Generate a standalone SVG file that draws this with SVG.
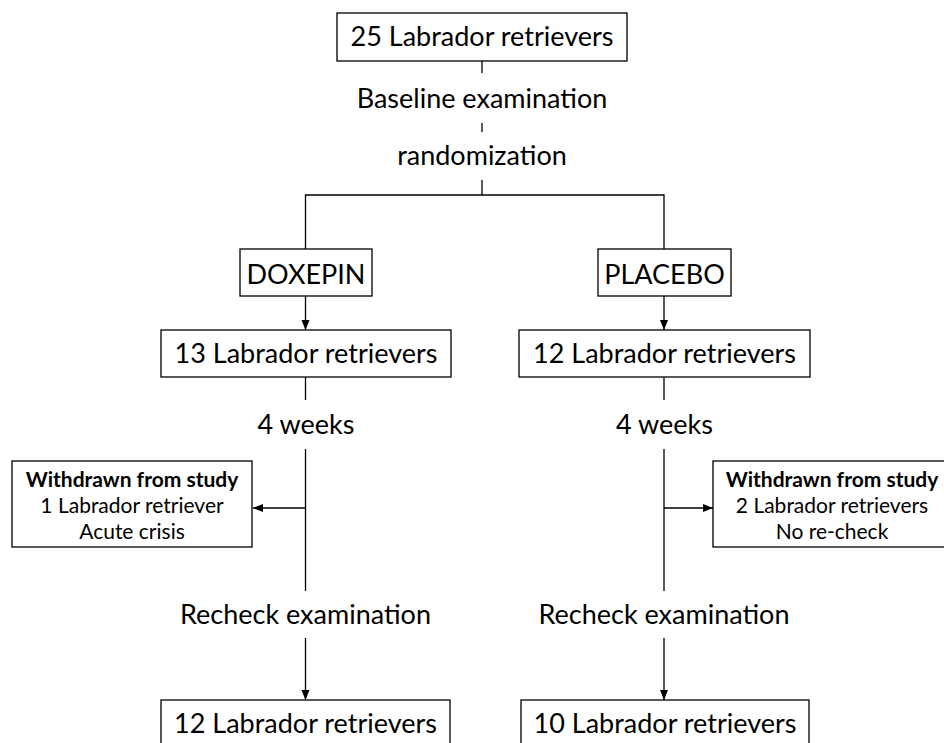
<svg xmlns="http://www.w3.org/2000/svg" width="944" height="743" viewBox="0 0 944 743">
<style>
  .box { fill: #fff; stroke: #000; stroke-width: 1.3; }
  .t { font-family: Lato, "Liberation Sans", sans-serif; font-size: 27px; fill: #000; text-anchor: middle; }
  .s { font-family: Lato, "Liberation Sans", sans-serif; font-size: 21px; fill: #000; text-anchor: middle; }
  .b { font-weight: bold; }
  .ln { stroke: #000; stroke-width: 1.3; fill: none; }
</style>
<defs>
  <marker id="arr" markerUnits="userSpaceOnUse" markerWidth="10" markerHeight="10" viewBox="0 0 10 10" refX="10" refY="5" orient="auto">
    <path d="M0,1 L10,5 L0,9 Z" fill="#000"/>
  </marker>
</defs>
<rect width="944" height="743" fill="#fff"/>
<g id="connectors">
  <line class="ln" x1="482" y1="61" x2="482" y2="73"/>
  <line class="ln" x1="482" y1="123" x2="482" y2="132"/>
  <line class="ln" x1="482" y1="180" x2="482" y2="195"/>
  <polyline class="ln" points="305.5,249 305.5,195 664,195 664,249"/>
  <line class="ln" x1="305.5" y1="296" x2="305.5" y2="330" marker-end="url(#arr)"/>
  <line class="ln" x1="664" y1="296" x2="664" y2="330" marker-end="url(#arr)"/>
  <line class="ln" x1="305.5" y1="377" x2="305.5" y2="400"/>
  <line class="ln" x1="664" y1="377" x2="664" y2="400"/>
  <line class="ln" x1="305.5" y1="449" x2="305.5" y2="591"/>
  <line class="ln" x1="664" y1="449" x2="664" y2="591"/>
  <line class="ln" x1="305.5" y1="508" x2="253" y2="508" marker-end="url(#arr)"/>
  <line class="ln" x1="664" y1="508" x2="713" y2="508" marker-end="url(#arr)"/>
  <line class="ln" x1="305.5" y1="638" x2="305.5" y2="700" marker-end="url(#arr)"/>
  <line class="ln" x1="664" y1="638" x2="664" y2="700" marker-end="url(#arr)"/>
</g>
<g id="n-start">
  <rect class="box" x="337" y="13" width="290" height="48"/>
  <text class="t" x="482" y="46">25 Labrador retrievers</text>
</g>
<g id="n-baseline"><text class="t" x="482" y="108">Baseline examination</text></g>
<g id="n-random"><text class="t" x="482" y="165">randomization</text></g>
<g id="n-doxepin">
  <rect class="box" x="240" y="249" width="132" height="47"/>
  <text class="t" x="306" y="284">DOXEPIN</text>
</g>
<g id="n-placebo">
  <rect class="box" x="598" y="249" width="133" height="47"/>
  <text class="t" x="664.5" y="284">PLACEBO</text>
</g>
<g id="n-dox13">
  <rect class="box" x="161" y="330" width="290" height="47"/>
  <text class="t" x="306" y="363">13 Labrador retrievers</text>
</g>
<g id="n-pla12">
  <rect class="box" x="519" y="330" width="291" height="47"/>
  <text class="t" x="664.5" y="363">12 Labrador retrievers</text>
</g>
<g id="n-weeks-l"><text class="t" x="306" y="434">4 weeks</text></g>
<g id="n-weeks-r"><text class="t" x="664.5" y="434">4 weeks</text></g>
<g id="n-withdrawn-l">
  <rect class="box" x="12" y="461" width="240" height="86"/>
  <text class="s b" x="132" y="487">Withdrawn from study</text>
  <text class="s" x="132" y="513">1 Labrador retriever</text>
  <text class="s" x="132" y="539">Acute crisis</text>
</g>
<g id="n-withdrawn-r">
  <rect class="box" x="713" y="461" width="238" height="86"/>
  <text class="s b" x="832" y="487">Withdrawn from study</text>
  <text class="s" x="832" y="513">2 Labrador retrievers</text>
  <text class="s" x="832" y="539">No re-check</text>
</g>
<g id="n-recheck-l"><text class="t" x="305.5" y="624">Recheck examination</text></g>
<g id="n-recheck-r"><text class="t" x="664" y="624">Recheck examination</text></g>
<g id="n-dox12">
  <rect class="box" x="161" y="700" width="289" height="47"/>
  <text class="t" x="305.5" y="733">12 Labrador retrievers</text>
</g>
<g id="n-pla10">
  <rect class="box" x="521" y="700" width="288" height="47"/>
  <text class="t" x="665" y="733">10 Labrador retrievers</text>
</g>
</svg>
